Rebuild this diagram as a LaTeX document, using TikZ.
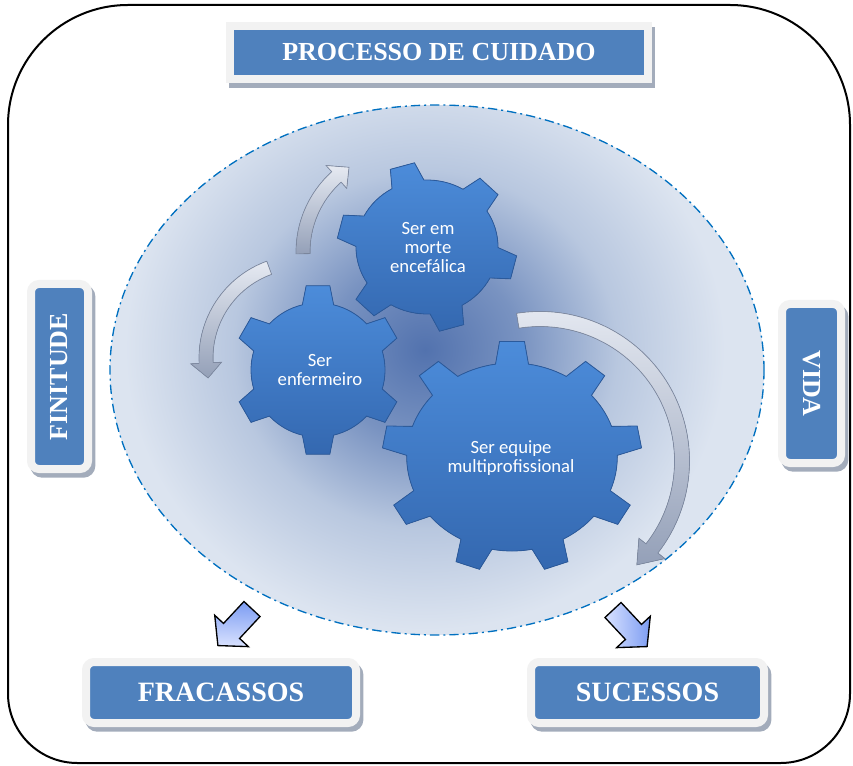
\documentclass[tikz,border=0pt]{standalone}
\usepackage{fontspec}
\setmainfont{Liberation Serif}
\newfontfamily\gearfont{Carlito}
\usepackage{tikz}

\definecolor{boxblue}{HTML}{4F81BD}
\definecolor{framegray}{HTML}{F2F2F2}
\definecolor{shadowgray}{HTML}{A3ACBB}
\definecolor{rimblue}{HTML}{0070C0}
\definecolor{bglight}{HTML}{DCE4F0}
\definecolor{bgmid}{HTML}{A9BBD8}
\definecolor{bgdark}{HTML}{5272AE}
\definecolor{geartop}{HTML}{4C8CDA}
\definecolor{gearbottom}{HTML}{3468B0}
\definecolor{gearedge}{HTML}{2B5A9C}
\definecolor{silverlight}{HTML}{E6EAF2}
\definecolor{silverdark}{HTML}{94A0B8}
\definecolor{silveredge}{HTML}{7E8AA2}
\definecolor{hintlight}{HTML}{D9E2FF}
\definecolor{hintdark}{HTML}{7C9CF2}

\pgfdeclareradialshading{bgglow}{\pgfpoint{0bp}{0bp}}{color(0bp)=(bgdark); color(8bp)=(bgdark!55!bgmid);
    color(16bp)=(bgmid!70!bglight); color(25bp)=(bglight); color(50bp)=(bglight)}

\tikzstyle{frameline} = [line width=1.5pt, draw=black]
\tikzstyle{rim} = [draw=rimblue, line width=1pt, dash pattern=on 7pt off 3pt on 1.5pt off 3pt]
\tikzstyle{labelbox} = [rectangle, inner sep=0pt, fill=boxblue, draw=framegray, line width=6pt,
    text=white, font=\bfseries\fontsize{19.5}{20}\selectfont,
    preaction={draw=shadowgray, fill=shadowgray, transform canvas={xshift=2.5pt, yshift=-3.5pt}}]
\tikzstyle{roundbox} = [labelbox, rounded corners=6pt]
\tikzstyle{gearbody} = [top color=geartop, bottom color=gearbottom, draw=gearedge, line width=0.6pt]
\tikzstyle{gearlabel} = [text=white, align=center, font=\gearfont\fontsize{14}{14.25}\selectfont]
\tikzstyle{bendband} = [top color=silverlight, bottom color=silverdark, draw=silveredge, line width=0.5pt]
\tikzstyle{hintshape} = [top color=hintlight, bottom color=hintdark, draw=black, line width=1pt]

% centre x, centre y, teeth, outer r, inner r, tip half angle, base half angle, turn, xscale
\newcommand{\gearat}[9]{%
    \begin{scope}[shift={(#1,#2)}, xscale=#9]
        \filldraw[gearbody] ({#8-#7}:#5)
            \foreach \k in {1,...,#3} {
                -- ({#8+(\k-1)*360/#3-#6}:#4) -- ({#8+(\k-1)*360/#3+#6}:#4)
                -- ({#8+(\k-1)*360/#3+#7}:#5)
                arc[start angle={#8+(\k-1)*360/#3+#7}, end angle={#8+\k*360/#3-#7}, radius=#5]
            } -- cycle;
    \end{scope}}

% centre x, centre y, radius, tail angle, head angle, tip angle, half width
\newcommand{\bendarrow}[7]{%
    \begin{scope}[shift={(#1,#2)}]
        \filldraw[bendband] (#4:{#3+#7}) arc[start angle=#4, end angle=#5, radius={#3+#7}]
            -- (#5:{#3+2.2*#7}) -- (#6:#3) -- (#5:{#3-2.2*#7}) -- (#5:{#3-#7})
            arc[start angle=#5, end angle=#4, radius={#3-#7}] -- cycle;
    \end{scope}}

% tail x, tail y, direction, shading angle
\newcommand{\hintarrow}[4]{%
    \filldraw[hintshape, shift={(#1,#2)}, rotate=#3, shading angle=#4]
        (0,-11) -- (30,-11) -- (30,-23) -- (50,0) -- (30,23) -- (30,11) -- (0,11) -- cycle;}

\begin{document}
\begin{tikzpicture}[x=0.75pt, y=-0.75pt]
    \useasboundingbox (0,0) rectangle (853,766);

    \draw[frameline] (8,400) [rounded corners=90pt] |- (430,5) -| (850,400)
        [rounded corners=52pt] |- (430,763) -| (8,400) -- cycle;

    \fill[bglight] (437,370) ellipse [x radius=327, y radius=265];
    \begin{scope}
        \clip (437,370) ellipse [x radius=327, y radius=265];
        \shade[shading=bgglow] (425,350) ellipse [x radius=300, y radius=280];
    \end{scope}
    \draw[rim] (437,370) ellipse [x radius=327, y radius=265];

    \node (title) [labelbox, minimum width=313.5pt, minimum height=39.75pt] at (439,52.5) {PROCESSO DE CUIDADO};
    \node (finitude) [roundbox, rotate=90, minimum width=138.75pt, minimum height=42.75pt] at (59.5,376.5) {FINITUDE};
    \node (vida) [roundbox, rotate=-90, minimum width=119.25pt, minimum height=44.25pt] at (811.5,383.5) {VIDA};
    \node (fracassos) [roundbox, font=\bfseries\fontsize{21}{22}\selectfont,
        minimum width=202.5pt, minimum height=45.75pt] at (221,692.5) {FRACASSOS};
    \node (sucessos) [roundbox, font=\bfseries\fontsize{21}{22}\selectfont,
        minimum width=174.75pt, minimum height=45.75pt] at (647.5,692.5) {SUCESSOS};

    \bendarrow{404}{252}{101}{179}{228}{237}{7}
    \bendarrow{302}{358}{96}{250}{177}{168}{7}
    \bendarrow{540}{461}{142}{-99}{38}{47}{7.5}

    \gearat{318}{370}{6}{85}{67}{8}{13.5}{-90}{1}
    \gearat{427}{247}{6}{85}{67}{8}{13.5}{-106}{1.06}
    \gearat{512}{457}{9}{116}{94}{5.5}{9}{-90}{1.12}

    \node (morte) [gearlabel] at (428,248) {Ser em\\morte\\encefálica};
    \node (enfermeiro) [gearlabel] at (320,370) {Ser\\enfermeiro};
    \node (equipe) [gearlabel] at (511,458) {Ser equipe\\multiprofissional};

    \hintarrow{252}{609}{227}{-182}
    \hintarrow{613}{610}{-47}{92}
\end{tikzpicture}
\end{document}
